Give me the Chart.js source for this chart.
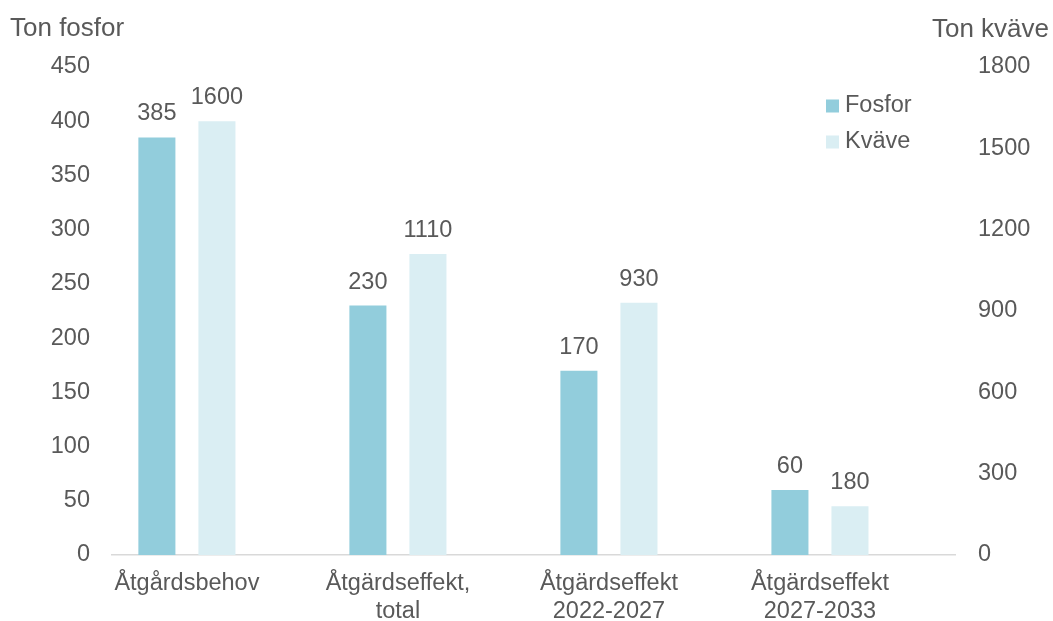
<!DOCTYPE html>
<html lang="sv">
<head>
<meta charset="utf-8">
<script src="https://cdn.jsdelivr.net/npm/chart.js@4.4.1/dist/chart.umd.min.js"></script>
<style>
  html, body { margin: 0; padding: 0; background: #fff; }
  #wrap { position: relative; width: 1053px; height: 621px; }
</style>
</head>
<body>
<div id="wrap"><canvas id="chart" width="1053" height="621"></canvas></div>
<script>
const categories = [
  ['Åtgårdsbehov'],
  ['Åtgärdseffekt,', 'total'],
  ['Åtgärdseffekt', '2022-2027'],
  ['Åtgärdseffekt', '2027-2033'],
];
const fosfor = [385, 230, 170, 60];
const kvave = [1600, 1110, 930, 180];
const fosforTicks = [0, 50, 100, 150, 200, 250, 300, 350, 400, 450];
const kvaveTicks = [0, 300, 600, 900, 1200, 1500, 1800];

const textColor = '#595959';
const fontFamily = "'Liberation Sans', Arial, sans-serif";

// values as {x: index, y} so the x scale can be offset like the original
const toPoints = (arr) => arr.map((v, i) => ({ x: i, y: v }));

const valueLabels = {
  id: 'valueLabels',
  afterDatasetsDraw(chart) {
    const ctx = chart.ctx;
    ctx.save();
    ctx.font = `23.5px ${fontFamily}`;
    ctx.fillStyle = textColor;
    ctx.textAlign = 'center';
    ctx.textBaseline = 'alphabetic';
    chart.data.datasets.forEach((ds, di) => {
      const meta = chart.getDatasetMeta(di);
      meta.data.forEach((bar, i) => {
        ctx.fillText(String(ds.data[i].y), bar.x, bar.y - 17);
      });
    });
    ctx.restore();
  },
};

const sideTitles = {
  id: 'sideTitles',
  afterDraw(chart) {
    const ctx = chart.ctx;
    ctx.save();
    ctx.font = `26px ${fontFamily}`;
    ctx.fillStyle = textColor;
    ctx.textBaseline = 'alphabetic';
    ctx.textAlign = 'left';
    ctx.fillText('Ton fosfor', 10, 36);
    ctx.textAlign = 'right';
    ctx.fillText('Ton kväve', 1049, 37);
    ctx.restore();
  },
};

const boxLegend = {
  id: 'boxLegend',
  afterDraw(chart) {
    const ctx = chart.ctx;
    const area = chart.chartArea;
    ctx.save();
    ctx.font = `23.5px ${fontFamily}`;
    ctx.textBaseline = 'middle';
    ctx.textAlign = 'left';
    chart.data.datasets.forEach((ds, i) => {
      const x = area.right - 129;
      const y = area.top + 39 + i * 36;
      ctx.fillStyle = ds.backgroundColor;
      ctx.fillRect(x, y - 6.5, 13, 13);
      ctx.fillStyle = textColor;
      ctx.fillText(ds.label, x + 19, y);
    });
    ctx.restore();
  },
};

new Chart(document.getElementById('chart'), {
  type: 'bar',
  data: {
    datasets: [
      { label: 'Fosfor', data: toPoints(fosfor), backgroundColor: '#92CDDC', yAxisID: 'y' },
      { label: 'Kväve', data: toPoints(kvave), backgroundColor: '#DAEEF3', yAxisID: 'y2' },
    ],
  },
  options: {
    responsive: false,
    animation: false,
    categoryPercentage: 0.569,
    barPercentage: 0.617,
    layout: { padding: { top: 67, left: 0, right: 0, bottom: 0 } },
    plugins: { legend: { display: false }, tooltip: { enabled: false } },
    scales: {
      x: {
        type: 'linear',
        offset: false,
        min: -0.355,
        max: 3.64,
        grid: { display: false, drawTicks: false, offset: false },
        border: { color: '#D9D9D9', width: 1.5 },
        afterBuildTicks: (s) => { s.ticks = categories.map((_, i) => ({ value: i })); },
        afterFit: (s) => { s.height = 66; },
        ticks: {
          padding: 14,
          color: textColor,
          font: { family: fontFamily, size: 23.5 },
          maxRotation: 0,
          autoSkip: false,
          callback: (v) => categories[v],
        },
      },
      y: {
        position: 'left',
        min: 0,
        max: 450,
        afterBuildTicks: (s) => { s.ticks = fosforTicks.map((v) => ({ value: v })); },
        afterFit: (s) => { s.width = 112; },
        grid: { display: false, drawTicks: false },
        border: { display: false },
        ticks: { padding: 22, color: textColor, font: { family: fontFamily, size: 23.5 }, callback: (v) => String(v) },
      },
      y2: {
        position: 'right',
        min: 0,
        max: 1800,
        afterBuildTicks: (s) => { s.ticks = kvaveTicks.map((v) => ({ value: v })); },
        afterFit: (s) => { s.width = 98; },
        grid: { display: false, drawTicks: false },
        border: { display: false },
        ticks: { padding: 23, color: textColor, font: { family: fontFamily, size: 23.5 }, callback: (v) => String(v) },
      },
    },
  },
  plugins: [valueLabels, sideTitles, boxLegend],
});
</script>
</body>
</html>
